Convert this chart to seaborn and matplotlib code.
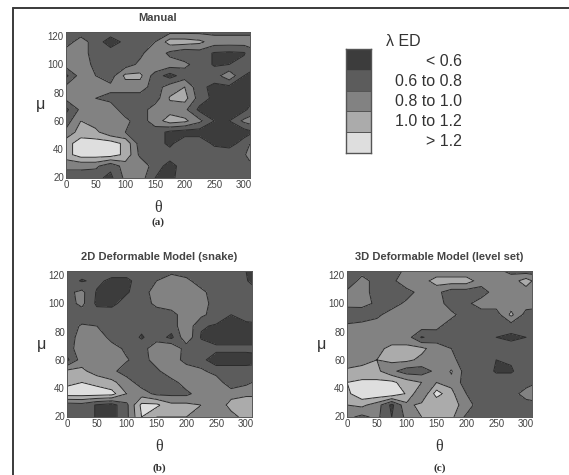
import matplotlib
matplotlib.use("Agg")
import matplotlib.pyplot as plt
from matplotlib.colors import ListedColormap
from matplotlib.lines import Line2D
import numpy as np
import seaborn as sns

theta = [0, 25, 50, 75, 100, 125, 150, 175, 200, 225, 250, 275, 300, 310]
mu = [123, 116, 108, 100, 92, 84, 76, 68, 60, 52, 44, 36, 28, 19.5]

manual = [
    [.70, .70, .70, .70, .70, .70, .70, .75, .75, .75, .75, .75, .75, .75],
    [.70, .90, .70, .50, .65, .70, .80, 1.1, 1.1, 1.05, .90, .90, .90, .90],
    [.90, .90, .70, .70, .70, .75, .95, .75, .65, .70, .58, .56, .58, .70],
    [.90, .90, .75, .70, .70, .85, 1.0, .90, .85, .70, .58, .60, .68, .70],
    [.55, .90, .80, .70, 1.05, 1.05, .70, .52, .70, .70, .70, .95, .60, .55],
    [.85, .90, .90, .85, .90, .90, .70, .90, 1.0, .65, .55, .55, .55, .55],
    [.85, .85, .80, .75, .70, .70, .70, 1.02, 1.08, .70, .55, .55, .52, .52],
    [.55, .85, .95, .90, .70, .70, .90, .92, .85, .55, .55, .50, .55, .65],
    [.70, 1.0, .90, .95, .85, .70, .90, 1.1, 1.05, .85, .60, .60, .85, .90],
    [.85, 1.1, 1.05, .85, .80, .70, .70, .55, .50, .50, .60, .60, .50, .55],
    [1.12, 1.3, 1.3, 1.3, 1.15, .70, .70, .55, .75, .75, .55, .50, .70, .80],
    [1.12, 1.3, 1.3, 1.3, 1.15, .75, .70, .70, .62, .72, .75, .75, .75, .95],
    [.85, .85, .85, .65, .90, .95, .70, .52, .70, .70, .70, .70, .70, .70],
    [.70, .70, .65, .55, .85, .90, .60, .55, .70, .70, .70, .70, .70, .70],
]

snake = [
    [.70, .70, .70, .70, .70, .70, .70, .70, .70, .70, .70, .70, .60, .55],
    [.70, .58, .65, .55, .55, .70, .80, 1.0, .85, .70, .70, .70, .62, .55],
    [.75, .85, .58, .50, .58, .70, .90, 1.0, 1.0, .85, .70, .70, .70, .70],
    [.72, .85, .56, .55, .68, .70, .85, .95, .95, .90, .70, .70, .70, .70],
    [.70, .70, .70, .70, .70, .70, .70, .70, .95, .85, .70, .60, .68, .70],
    [.72, .82, .80, .70, .70, .65, .70, .70, .95, .62, .58, .58, .55, .55],
    [.62, .95, .95, .72, .70, .58, .70, .55, .95, .58, .50, .50, .50, .50],
    [.72, .90, .95, .90, .75, .70, .95, 1.0, .70, .70, .65, .65, .65, .65],
    [.55, .90, .90, .85, .82, .70, .90, .95, .70, .65, .50, .50, .50, .52],
    [1.05, 1.05, .90, .85, .70, .70, .75, .95, .95, .85, .70, .70, .70, .70],
    [1.15, 1.2, 1.15, 1.05, .90, .70, .72, .72, .90, .95, .95, .62, .75, .80],
    [1.3, 1.3, 1.3, 1.28, 1.0, .90, .75, .75, .75, .90, .95, .95, .95, .95],
    [.70, .72, .58, .52, .75, 1.25, 1.25, 1.05, 1.05, 1.0, .90, 1.05, 1.15, 1.15],
    [.70, .72, .58, .52, .75, 1.2, 1.0, 1.0, 1.0, .95, .90, .95, 1.05, 1.05],
]

level_set = [
    [.70, .70, .70, .70, .85, .85, .85, .85, .85, .85, .85, .75, .70, .70],
    [.60, .90, .70, .72, 1.0, .90, 1.1, 1.1, 1.1, .90, .90, .90, 1.1, 1.0],
    [.85, .90, .70, .65, .70, .90, .85, .70, .70, .70, .90, .90, .90, .90],
    [.90, .90, .75, .70, .85, .90, .90, .70, .75, .90, .90, .90, .90, .90],
    [.60, .62, .75, .90, .90, .90, .90, .85, .70, .70, .70, 1.05, .72, .70],
    [.85, .90, .90, .90, .90, .90, .85, .70, .70, .70, .65, .70, .70, .70],
    [.90, .90, .90, .90, .90, .58, .70, .70, .70, .70, .60, .55, .60, .65],
    [.90, .90, .95, 1.05, 1.05, 1.05, .90, .80, .70, .65, .62, .70, .70, .70],
    [.85, .95, 1.0, 1.05, 1.05, .95, .90, .85, .70, .70, .60, .62, .70, .70],
    [1.05, 1.05, 1.05, .85, .70, .70, .85, 1.02, .70, .70, .58, .58, .70, .70],
    [1.2, 1.25, 1.25, 1.25, 1.1, 1.0, 1.0, .95, .70, .70, .70, .70, .70, .75],
    [1.15, 1.35, 1.35, 1.35, 1.18, .80, 1.3, 1.05, .80, .70, .70, .70, .90, .95],
    [1.0, 1.05, .90, .55, .95, 1.05, 1.0, 1.05, .95, .62, .62, .65, .70, .70],
    [.85, .75, .85, .60, .85, 1.0, 1.05, 1.05, .75, .70, .70, .70, .70, .70],
]

legend_labels = ['< 0.6', '0.6 to 0.8', '0.8 to 1.0', '1.0 to 1.2', '> 1.2']
legend_values = [0, 1, 2, 3, 4]
levels = [0, 0.6, 0.8, 1.0, 1.2, 2]
greys = ['#3c3c3c', '#5c5c5c', '#828282', '#ababab', '#dedede']

sns.set_theme(style="white")
plt.rcParams['font.family'] = ['Liberation Sans', 'DejaVu Sans']

W, H = 569, 475
fig = plt.figure(figsize=(W / 100, H / 100), dpi=100)


def px_axes(x0, y0, x1, y1):
    return fig.add_axes([x0 / W, 1 - y1 / H, (x1 - x0) / W, (y1 - y0) / H])


def contour_panel(box, grid, title, tag, tag_y):
    ax = px_axes(*box)
    ax.contourf(theta, mu, np.array(grid), levels=levels, colors=greys)
    ax.contour(theta, mu, np.array(grid), levels=levels[1:-1], colors='#2a2a2a', linewidths=0.7)
    ax.set_xlim(0, 310)
    ax.set_ylim(19.5, 123)
    ax.set_xticks(range(0, 301, 50))
    ax.set_yticks(range(20, 121, 20))
    ax.tick_params(labelsize=7, length=0, pad=1.5, labelcolor='#444444')
    for s in ax.spines.values():
        s.set_color('#555555')
        s.set_linewidth(0.7)
    ax.set_title(title, fontsize=8, fontweight='bold', color='#444444', pad=8)
    ax.set_xlabel('θ', fontsize=11.5, family='Liberation Serif', color='#333333', labelpad=7)
    ax.set_ylabel('μ', fontsize=11.5, color='#333333', rotation=0, va='center', labelpad=5)
    fig.text((box[0] + box[2]) / 2 / W, 1 - tag_y / H, tag, fontsize=8, fontweight='bold',
             family='Liberation Serif', color='#333333', ha='center', va='center')
    return ax


contour_panel((66, 32, 250, 178), manual, 'Manual', '(a)', 222)
contour_panel((67, 271, 252, 417), snake, '2D Deformable Model (snake)', '(b)', 468)
contour_panel((347, 271, 532, 417), level_set, '3D Deformable Model (level set)', '(c)', 468)

# legend swatch, one heatmap cell per class
lax = px_axes(346, 49, 371, 153)
sns.heatmap(np.array(legend_values).reshape(-1, 1), ax=lax, cbar=False, vmin=0, vmax=4,
            cmap=ListedColormap(greys), xticklabels=False, yticklabels=False,
            linewidths=0.4, linecolor='#555555')
for s in lax.spines.values():
    s.set_visible(True)
    s.set_color('#555555')
    s.set_linewidth(1.0)

fig.text(386 / W, 1 - 42 / H, 'λ ED', fontsize=11.5, color='#333333', ha='left', va='center')
for i, lab in enumerate(legend_labels):
    fig.text(462 / W, 1 - (62 + 20 * i) / H, lab, fontsize=11.5, color='#333333', ha='right', va='center')

# page frame: only the top and left rules are in the scan
fig.add_artist(Line2D([13 / W, 1], [1 - 8 / H, 1 - 8 / H], color='#3a3a3a', linewidth=1.4))
fig.add_artist(Line2D([13 / W, 13 / W], [0, 1 - 8 / H], color='#3a3a3a', linewidth=1.4))

fig.savefig('out.png', dpi=100)
